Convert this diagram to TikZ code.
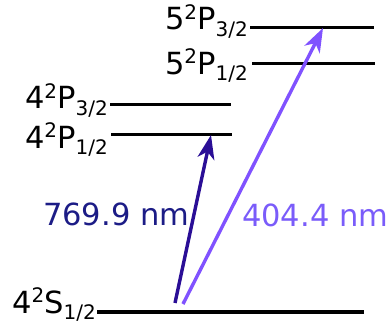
\documentclass[tikz,border=0pt]{standalone}
\usepackage{fontspec}
\setmainfont{DejaVu Sans}
\usetikzlibrary{arrows.meta}
\definecolor{darkv}{HTML}{2A0E96}
\definecolor{darklab}{HTML}{1C1C86}
\definecolor{lightv}{HTML}{8052FF}
\definecolor{lightlab}{HTML}{7A5CFA}
\newcommand\mysup[1]{\raisebox{0.34em}{\fontsize{20}{20}\selectfont #1}}
\newcommand\mysub[1]{\raisebox{-0.22em}{\fontsize{20}{20}\selectfont #1}}
\tikzset{
  lvl/.style={line width=3pt, black},
  lvllab/.style={anchor=base east, inner sep=0pt, font=\fontsize{30.5}{36}\selectfont},
  nmlab/.style={anchor=base west, inner sep=0pt, font=\fontsize{30.5}{36}\selectfont},
  trans/.style={line width=3.4pt, -{Stealth[length=24pt, width=17pt, inset=7pt]}}
}
\begin{document}
\begin{tikzpicture}[x=1pt,y=1pt]
\useasboundingbox (0,0) rectangle (392,325);
% level end points
\coordinate (a1) at (250,298); \coordinate (a2) at (374,298);
\coordinate (b1) at (252,262); \coordinate (b2) at (375,262);
\coordinate (c1) at (110,221); \coordinate (c2) at (231,221);
\coordinate (d1) at (111,191); \coordinate (d2) at (232,191);
\coordinate (g1) at (97,13);   \coordinate (g2) at (364,13);
\draw[lvl] (a1) -- (a2);
\draw[lvl] (b1) -- (b2);
\draw[lvl] (c1) -- (c2);
\draw[lvl] (d1) -- (d2);
\draw[lvl, line width=4.5pt] (g1) -- (g2);
% labels
\node[lvllab] (la) at (248,295) {5\mysup{2}P\mysub{3/2}};
\node[lvllab] (lb) at (248,251) {5\mysup{2}P\mysub{1/2}};
\node[lvllab] (lc) at (108,216) {4\mysup{2}P\mysub{3/2}};
\node[lvllab] (ld) at (108,177) {4\mysup{2}P\mysub{1/2}};
\node[lvllab] (lg) at (96,12) {4\mysup{2}S\mysub{1/2}};
% transitions
\coordinate (s1) at (175,22); \coordinate (t1) at (211,190);
\coordinate (s2) at (183,21); \coordinate (t2) at (323,297);
\draw[trans, darkv] (s1) -- (t1);
\draw[trans, lightv] (s2) -- (t2);
\node[nmlab, text=darklab] (n1) at (43,100) {769.9 nm};
\node[nmlab, text=lightlab] (n2) at (242,99) {404.4 nm};
\end{tikzpicture}
\end{document}
